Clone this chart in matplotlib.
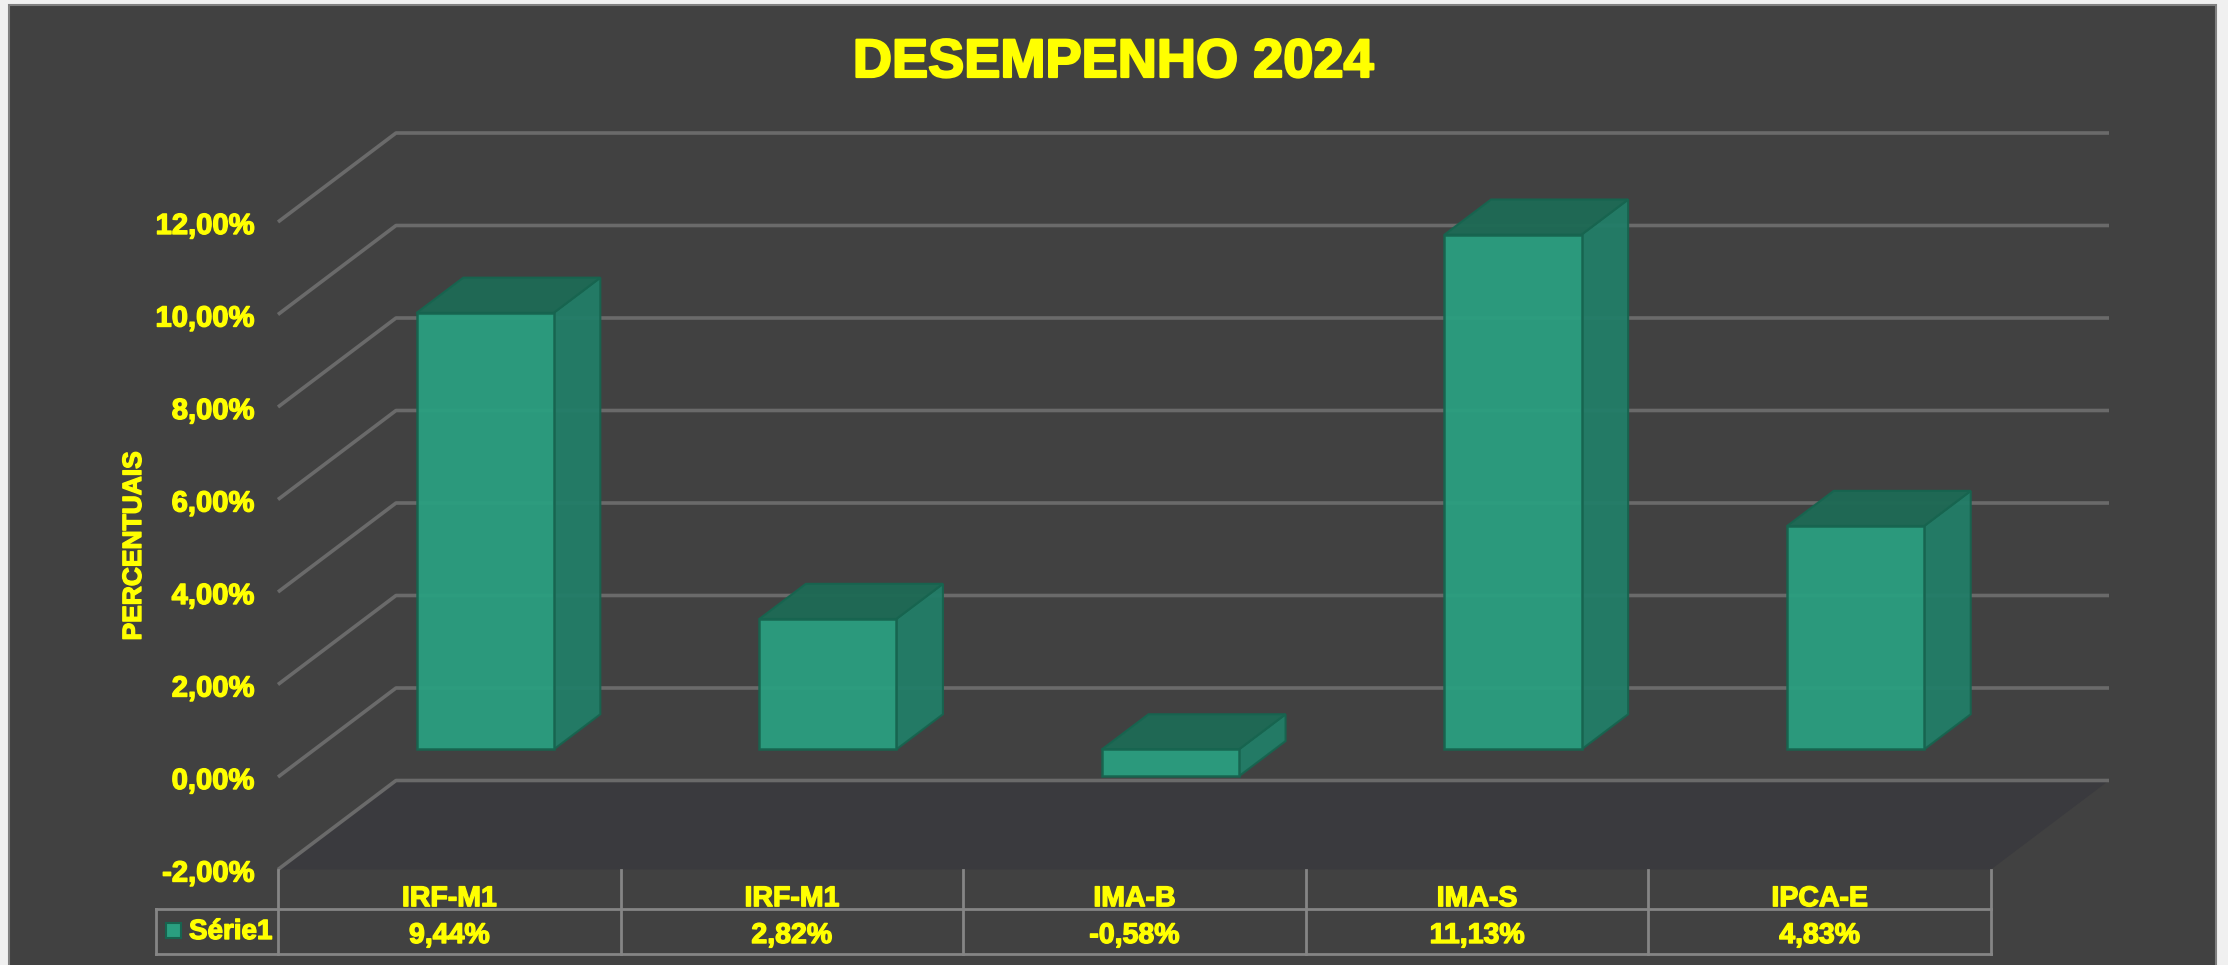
import matplotlib
matplotlib.use("Agg")
import matplotlib.pyplot as plt
from matplotlib.patches import Rectangle
from matplotlib.transforms import ScaledTranslation
import matplotlib.patheffects as pe

categories = ['IRF-M1', 'IRF-M1', 'IMA-B', 'IMA-S', 'IPCA-E']
values = [9.44, 2.82, -0.58, 11.13, 4.83]
y_ticks = [-2, 0, 2, 4, 6, 8, 10, 12]
series_name = 'Série1'

W, H = 2228, 965
BG = '#414141'
YELLOW = '#ffff00'
GRID = '#6a6a6a'
TABLE = '#858585'
FONT = 'Liberation Sans'

# pixel box of the plot (front plane of the fake 3d)
X0, X1 = 278, 1991
Y_TOP, Y_BOT = 222, 869.5
DEPTH_X = 118 / ((X1 - X0) / 5)          # wall offset in category units
DEPTH_Y = 89 / ((Y_BOT - Y_TOP) / 14)    # wall offset in percent units
BAR_D0, BAR_D1 = 0.31, 0.705
BAR_W = 0.40
BAR_SHIFT = -0.002


def fmt(v):
    return f'{v:.2f}'.replace('.', ',') + '%'


def proj(x, y, d):
    return x + d * DEPTH_X, y + d * DEPTH_Y


plt.rcParams['font.family'] = FONT
plt.rcParams['font.weight'] = 'bold'
outline = [pe.withStroke(linewidth=1.0, foreground=YELLOW)]

fig = plt.figure(figsize=(W / 100, H / 100), dpi=100, facecolor='#f0f0f0')
fig.add_artist(Rectangle((9 / W, -0.01), (2216 - 9) / W, 1 - 5 / H + 0.01,
                         transform=fig.transFigure, facecolor=BG,
                         edgecolor='#808080', linewidth=1.5, zorder=-1))

ax = fig.add_axes([X0 / W, 1 - Y_BOT / H, (X1 - X0) / W, (Y_BOT - Y_TOP) / H])
ax.patch.set_alpha(0)
ax.set_xlim(0, 5)
ax.set_ylim(-2, 12)
for s in ax.spines.values():
    s.set_visible(False)

# floor
fx = [0, DEPTH_X, 5 + DEPTH_X, 5]
fy = [-2, -2 + DEPTH_Y, -2 + DEPTH_Y, -2]
ax.fill(fx, fy, color='#3a3a3e', zorder=1, clip_on=False, lw=0)

# walls
for v in y_ticks:
    ax.plot([0, DEPTH_X, 5 + DEPTH_X], [v, v + DEPTH_Y, v + DEPTH_Y], color=GRID,
            lw=2.6, zorder=2, clip_on=False, solid_capstyle='butt')

# bars
for i, v in enumerate(values):
    xc, base = proj(i + 0.5 + BAR_SHIFT, 0, BAR_D0)
    left = xc - BAR_W / 2
    right = xc + BAR_W / 2
    ax.bar(xc, v, BAR_W, bottom=base, color='#2a9f80', edgecolor='#17644f',
           linewidth=1.8, alpha=0.95, zorder=6, clip_on=False)
    top = base + v
    ddx = (BAR_D1 - BAR_D0) * DEPTH_X
    ddy = (BAR_D1 - BAR_D0) * DEPTH_Y
    ax.fill([right, right + ddx, right + ddx, right],
            [base, base + ddy, top + ddy, top],
            facecolor='#227e68', edgecolor='#17644f', lw=1.5, alpha=0.95,
            zorder=5, clip_on=False)
    ax.fill([left, left + ddx, right + ddx, right],
            [max(top, base), max(top, base) + ddy, max(top, base) + ddy, max(top, base)],
            facecolor='#1e6a55', edgecolor='#17644f', lw=1.5, alpha=0.97,
            zorder=5, clip_on=False)

# axis labels
ax.set_yticks(y_ticks)
ax.set_yticklabels([fmt(v) for v in y_ticks], color=YELLOW, fontsize=21,
                   fontweight='bold', path_effects=outline)
ax.tick_params(axis='y', length=0, pad=17)
# the labels sit a little under their tick in the original
label_offset = ScaledTranslation(0, -1 / 100, fig.dpi_scale_trans)
for t in ax.get_yticklabels():
    t.set_transform(t.get_transform() + label_offset)
ax.set_xticks([i + 0.5 for i in range(len(categories))])
ax.set_xticklabels(categories, color=YELLOW, fontsize=20.5, fontweight='bold',
                   path_effects=outline)
ax.tick_params(axis='x', length=0, pad=12)
ax.set_ylabel('PERCENTUAIS', color=YELLOW, fontsize=19, fontweight='bold',
              path_effects=outline)
ax.yaxis.set_label_coords((146 - X0) / (X1 - X0), (Y_BOT - 546) / (Y_BOT - Y_TOP))

fig.text(1113 / W, 1 - 63 / H, 'DESEMPENHO 2024', color=YELLOW, fontsize=39,
         fontweight='bold', ha='center', va='center',
         path_effects=[pe.withStroke(linewidth=1.6, foreground=YELLOW)])

# data table under the plot
trans = ax.get_xaxis_transform()
h = Y_BOT - Y_TOP
row1 = (Y_BOT - 909) / h
row2 = (Y_BOT - 954) / h
legend_x = (156 - X0) / ((X1 - X0) / 5)
for i in range(len(categories) + 1):
    ax.plot([i, i], [0, row2], transform=trans, color=TABLE, lw=2, clip_on=False, zorder=3)
ax.plot([legend_x, 5], [row1, row1], transform=trans, color=TABLE, lw=2, clip_on=False, zorder=3)
ax.plot([legend_x, 5], [row2, row2], transform=trans, color=TABLE, lw=2, clip_on=False, zorder=3)
ax.plot([legend_x, legend_x], [row1, row2], transform=trans, color=TABLE, lw=2, clip_on=False, zorder=3)

for i, v in enumerate(values):
    ax.text(i + 0.5, (Y_BOT - 936) / h, fmt(v), transform=trans, color=YELLOW, fontsize=20.5,
            ha='center', va='center', path_effects=outline, clip_on=False)

fig.add_artist(Rectangle((166 / W, 1 - 938 / H), 15 / W, 15 / H, transform=fig.transFigure,
                         facecolor='#2a9f80', edgecolor='#17644f', linewidth=1.5))
fig.text(189 / W, 1 - 932 / H, series_name, color=YELLOW, fontsize=20, ha='left', va='center',
         path_effects=outline)

fig.savefig('out.png', dpi=100, facecolor=fig.get_facecolor())
